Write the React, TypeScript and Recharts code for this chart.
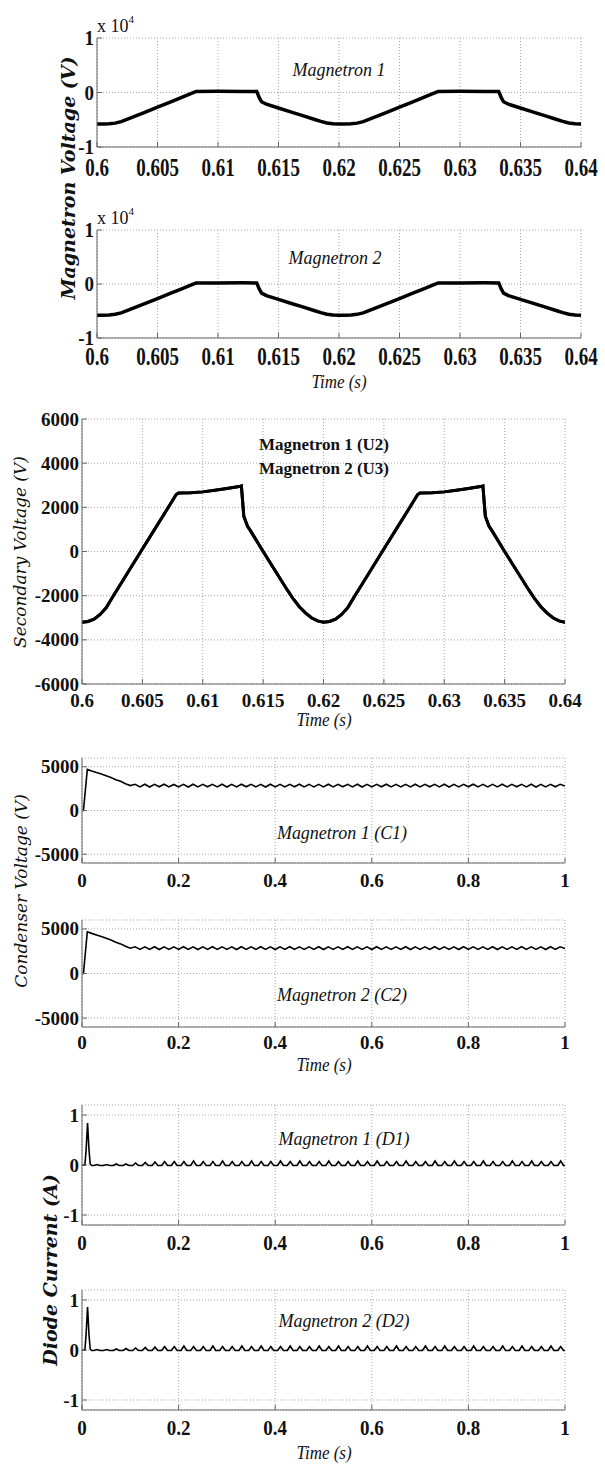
import React from 'react';
import { LineChart, Line, XAxis, YAxis, CartesianGrid } from 'recharts';

// ---- axis ticks ----
const shortTicks = [0.6, 0.605, 0.61, 0.615, 0.62, 0.625, 0.63, 0.635, 0.64];
const shortTickLabels = ['0.6', '0.605', '0.61', '0.615', '0.62', '0.625', '0.63', '0.635', '0.64'];
const longTicks = [0, 0.2, 0.4, 0.6, 0.8, 1];
const longTickLabels = ['0', '0.2', '0.4', '0.6', '0.8', '1'];
const magYTicks = [-10000, 0, 10000];
const magYLabels = ['-1', '0', '1'];
const secYTicks = [-6000, -4000, -2000, 0, 2000, 4000, 6000];
const secYLabels = ['-6000', '-4000', '-2000', '0', '2000', '4000', '6000'];
const condYTicks = [-5000, 0, 5000];
const condYLabels = ['-5000', '0', '5000'];
const diodeYTicks = [-1, 0, 1];
const diodeYLabels = ['-1', '0', '1'];

// ---- magnetron voltage (V), 0.6 .. 0.64 s ----
const magTime = [
  0.6, 0.6005, 0.601, 0.6015, 0.602, 0.603, 0.604, 0.605, 0.606, 0.607, 0.6078, 0.6082, 0.61, 0.612, 0.6132,
  0.6134, 0.6136, 0.614, 0.615, 0.616, 0.617, 0.618, 0.6185, 0.619, 0.6195, 0.62,
  0.6205, 0.621, 0.6215, 0.622, 0.623, 0.624, 0.625, 0.626, 0.627, 0.6278, 0.6282, 0.63, 0.632, 0.6332,
  0.6334, 0.6336, 0.634, 0.635, 0.636, 0.637, 0.638, 0.6385, 0.639, 0.6395, 0.64,
];
const magnetron1 = [
  -5800, -5790, -5740, -5620, -5350, -4480, -3580, -2700, -1800, -900, -150, 200, 210, 200, 200,
  -900, -1700, -2150, -2850, -3550, -4250, -4950, -5300, -5600, -5750, -5800,
  -5790, -5740, -5620, -5350, -4480, -3580, -2700, -1800, -900, -150, 200, 210, 200, 200,
  -900, -1700, -2150, -2850, -3550, -4250, -4950, -5300, -5600, -5750, -5800,
];
const magnetron2 = [
  -5800, -5790, -5740, -5610, -5350, -4480, -3580, -2690, -1800, -900, -150, 200, 200, 210, 200,
  -900, -1700, -2150, -2850, -3560, -4250, -4950, -5300, -5600, -5750, -5800,
  -5790, -5740, -5620, -5350, -4470, -3570, -2700, -1800, -900, -150, 200, 200, 210, 200,
  -900, -1700, -2150, -2850, -3550, -4250, -4950, -5300, -5600, -5750, -5800,
];

// ---- secondary voltage (V) ----
const secTime = [
  0.6, 0.6005, 0.601, 0.6015, 0.602, 0.6026, 0.603, 0.604, 0.605, 0.606, 0.607, 0.6078, 0.608, 0.609, 0.61,
  0.611, 0.612, 0.613, 0.6132, 0.6134, 0.6137, 0.614, 0.615, 0.616, 0.617, 0.6175, 0.618, 0.6185, 0.619, 0.6195,
  0.62, 0.6205, 0.621, 0.6215, 0.622, 0.6226, 0.623, 0.624, 0.625, 0.626, 0.627, 0.6278, 0.628, 0.629, 0.63,
  0.631, 0.632, 0.633, 0.6332, 0.6334, 0.6337, 0.634, 0.635, 0.636, 0.637, 0.6375, 0.638, 0.6385, 0.639, 0.6395, 0.64,
];
const secondaryU2 = [
  -3200, -3170, -3060, -2850, -2550, -2000, -1650, -770, 110, 990, 1870, 2580, 2650, 2660, 2700,
  2770, 2850, 2940, 2970, 1600, 1150, 900, 0, -870, -1740, -2150, -2500, -2780, -3000, -3140,
  -3200, -3170, -3060, -2850, -2550, -2000, -1650, -770, 110, 990, 1870, 2580, 2650, 2660, 2700,
  2770, 2850, 2940, 2970, 1600, 1150, 900, 0, -870, -1740, -2150, -2500, -2780, -3000, -3140, -3200,
];
const secondaryU3 = [
  -3200, -3170, -3060, -2850, -2550, -2000, -1650, -770, 110, 990, 1870, 2580, 2650, 2660, 2700,
  2770, 2850, 2940, 2970, 1600, 1150, 900, 0, -870, -1740, -2150, -2500, -2780, -3000, -3140,
  -3200, -3170, -3060, -2850, -2550, -2000, -1650, -770, 110, 990, 1870, 2580, 2650, 2660, 2700,
  2770, 2850, 2940, 2970, 1600, 1150, 900, 0, -870, -1740, -2150, -2500, -2780, -3000, -3140, -3200,
];

// ---- condenser voltage (V), 0 .. 1 s ----
const condStartTime = [0, 0.003, 0.011, 0.02, 0.03, 0.04, 0.05, 0.06, 0.07, 0.08, 0.09];
const cond1Start = [0, 0, 4700, 4520, 4330, 4160, 3960, 3780, 3520, 3330, 3060];
const cond2Start = [0, 0, 4680, 4500, 4320, 4150, 3950, 3760, 3510, 3320, 3050];
const rippleStart = 0.1;
const rippleStep = 0.01;
const cond1Ripple = [
  2850, 2990, 2700, 3000, 2690, 2990, 2710, 3000, 2700, 2980,
  2700, 2990, 2690, 3000, 2700, 2990, 2710, 2990, 2700, 3000,
  2690, 2990, 2700, 3000, 2710, 2990, 2700, 2990, 2690, 3000,
  2700, 2990, 2700, 2990, 2710, 3000, 2700, 2990, 2690, 2990,
  2700, 3000, 2700, 2990, 2710, 2990, 2700, 3000, 2690, 2990,
  2700, 2990, 2710, 3000, 2700, 2990, 2690, 2990, 2700, 3000,
  2700, 2990, 2710, 2990, 2700, 3000, 2690, 2990, 2700, 2990,
  2710, 3000, 2700, 2990, 2690, 2990, 2700, 3000, 2700, 2990,
  2710, 2990, 2700, 3000, 2690, 2990, 2700, 2990, 2710, 3000,
  2800,
];
const cond2Ripple = [
  2840, 2990, 2700, 2990, 2700, 3000, 2690, 2990, 2710, 2990,
  2700, 3000, 2700, 2990, 2690, 2990, 2700, 3000, 2710, 2990,
  2700, 2990, 2690, 3000, 2700, 2990, 2710, 3000, 2700, 2990,
  2690, 2990, 2700, 3000, 2700, 2990, 2710, 2990, 2700, 3000,
  2690, 2990, 2700, 2990, 2710, 3000, 2700, 2990, 2700, 2990,
  2690, 3000, 2700, 2990, 2710, 2990, 2700, 3000, 2690, 2990,
  2700, 2990, 2700, 3000, 2710, 2990, 2700, 2990, 2690, 3000,
  2700, 2990, 2710, 2990, 2700, 3000, 2690, 2990, 2700, 2990,
  2700, 3000, 2710, 2990, 2700, 2990, 2690, 3000, 2700, 2990,
  2800,
];

// ---- diode current (A), 0 .. 1 s ----
const diodeStartTime = [0, 0.006, 0.0085, 0.0115, 0.0145, 0.017, 0.02];
const diode1Start = [0, 0, 0.3, 0.84, 0.3, 0.02, -0.01];
const diode2Start = [0, 0, 0.32, 0.86, 0.3, 0.02, -0.01];
const bumpStart = 0.02;
const bumpPeriod = 0.02;
const diodeBase = -0.01;
const diode1Peaks = [
  0.01, 0.01, 0.02, 0.02, 0.04, 0.05, 0.06, 0.07, 0.07, 0.07,
  0.08, 0.07, 0.07, 0.08, 0.07, 0.07, 0.08, 0.07, 0.07, 0.08,
  0.07, 0.08, 0.07, 0.07, 0.08, 0.07, 0.07, 0.08, 0.07, 0.08,
  0.07, 0.07, 0.08, 0.07, 0.07, 0.08, 0.07, 0.08, 0.07, 0.07,
  0.08, 0.07, 0.07, 0.08, 0.07, 0.08, 0.07, 0.07, 0.08,
];
const diode2Peaks = [
  0.01, 0.01, 0.02, 0.03, 0.04, 0.05, 0.06, 0.07, 0.07, 0.08,
  0.07, 0.07, 0.08, 0.07, 0.07, 0.08, 0.07, 0.08, 0.07, 0.07,
  0.08, 0.07, 0.07, 0.08, 0.07, 0.08, 0.07, 0.07, 0.08, 0.07,
  0.07, 0.08, 0.07, 0.07, 0.08, 0.07, 0.08, 0.07, 0.07, 0.08,
  0.07, 0.07, 0.08, 0.07, 0.08, 0.07, 0.07, 0.08, 0.07,
];

// ---- build rows ----
const rows = (time: number[], ...cols: [string, number[]][]) =>
  time.map((t, i) => {
    const r: any = { t };
    cols.forEach(([k, arr]) => (r[k] = arr[i]));
    return r;
  });

const condRows = (start: number[], ripple: number[]) => [
  ...condStartTime.map((t, i) => ({ t, v: start[i] })),
  ...ripple.map((v, i) => ({ t: rippleStart + i * rippleStep, v })),
];

const diodeRows = (start: number[], peaks: number[]) => {
  const out = diodeStartTime.map((t, i) => ({ t, v: start[i] }));
  peaks.forEach((p, k) => {
    const t0 = bumpStart + k * bumpPeriod;
    out.push({ t: t0 + 0.25 * bumpPeriod, v: diodeBase });
    out.push({ t: t0 + 0.55 * bumpPeriod, v: p });
    out.push({ t: t0 + 0.85 * bumpPeriod, v: diodeBase });
  });
  out.push({ t: 1, v: diodeBase });
  return out;
};

const mag1Data = rows(magTime, ['v', magnetron1]);
const mag2Data = rows(magTime, ['v', magnetron2]);
const secData = rows(secTime, ['u2', secondaryU2], ['u3', secondaryU3]);
const cond1Data = condRows(cond1Start, cond1Ripple);
const cond2Data = condRows(cond2Start, cond2Ripple);
const diode1Data = diodeRows(diode1Start, diode1Peaks);
const diode2Data = diodeRows(diode2Start, diode2Peaks);

const W = 605;
const H = 1464;
const FRAME = '#666';
const GRID = '#a8a8a8';
const TICK_FONT = '"Liberation Serif", "Times New Roman", serif';
const LABEL_FONT = '"DejaVu Serif", serif';

const makeTick = (values: number[], labels: string[], size: number, stretch: number, anchor: string) =>
  (props: any) => {
    const { x, y, payload } = props;
    const i = values.findIndex((v) => Math.abs(v - payload.value) < 1e-9);
    return (
      <text
        transform={`translate(${x},${y}) scale(1,${stretch})`}
        textAnchor={anchor}
        dominantBaseline="central"
        fontFamily={TICK_FONT}
        fontWeight="bold"
        fontSize={size}
        fill="#111"
      >
        {i >= 0 ? labels[i] : ''}
      </text>
    );
  };

type PanelProps = {
  box: { left: number; right: number; top: number; bottom: number };
  data: any[];
  keys: string[];
  xDomain: [number, number];
  xTicks: number[];
  xLabels: string[];
  yDomain: [number, number];
  yTicks: number[];
  yLabels: string[];
  labelGap: number;
  fontSize: number;
  xStretch?: number;
  yStretch?: number;
  strokeWidth: number;
};

const PAD = 16;
const AXIS_H = 40;
const Y_W = 50;

function Panel(p: PanelProps) {
  const h = p.box.bottom - p.box.top + PAD + AXIS_H;
  const XTick = makeTick(p.xTicks, p.xLabels, p.fontSize, p.xStretch ?? 1, 'middle');
  const YTick = makeTick(p.yTicks, p.yLabels, p.fontSize, p.yStretch ?? 1, 'end');
  return (
    <div style={{ position: 'absolute', left: 0, top: p.box.top - PAD, width: W, height: h }}>
      <LineChart
        width={W}
        height={h}
        data={p.data}
        style={{ overflow: 'visible' }}
        margin={{ top: PAD, right: W - p.box.right, bottom: 0, left: p.box.left - Y_W }}
      >
        <CartesianGrid stroke={GRID} strokeDasharray="1 2" />
        <XAxis
          dataKey="t"
          type="number"
          domain={p.xDomain}
          ticks={p.xTicks}
          interval={0}
          allowDataOverflow
          height={AXIS_H}
          tickSize={-5}
          tickMargin={p.labelGap + 5}
          axisLine={{ stroke: FRAME }}
          tickLine={{ stroke: FRAME }}
          tick={XTick}
        />
        <XAxis
          xAxisId="top"
          orientation="top"
          dataKey="t"
          type="number"
          domain={p.xDomain}
          ticks={p.xTicks}
          interval={0}
          allowDataOverflow
          height={0}
          tickSize={-5}
          axisLine={{ stroke: FRAME }}
          tickLine={{ stroke: FRAME }}
          tick={false}
        />
        <YAxis
          type="number"
          domain={p.yDomain}
          ticks={p.yTicks}
          interval={0}
          allowDataOverflow
          width={Y_W}
          tickSize={-5}
          tickMargin={8}
          axisLine={{ stroke: FRAME }}
          tickLine={{ stroke: FRAME }}
          tick={YTick}
        />
        <YAxis
          yAxisId="right"
          orientation="right"
          type="number"
          domain={p.yDomain}
          ticks={p.yTicks}
          interval={0}
          allowDataOverflow
          width={0}
          tickSize={-5}
          axisLine={{ stroke: FRAME }}
          tickLine={{ stroke: FRAME }}
          tick={false}
        />
        {p.keys.map((k) => (
          <Line
            key={k}
            dataKey={k}
            type="linear"
            stroke="#000"
            strokeWidth={p.strokeWidth}
            dot={false}
            isAnimationActive={false}
          />
        ))}
      </LineChart>
    </div>
  );
}

function Txt(props: {
  x: number;
  y: number;
  size: number;
  children: React.ReactNode;
  italic?: boolean;
  bold?: boolean;
  family?: string;
  rotate?: number;
  stretch?: number;
}) {
  const { x, y, size, italic, bold, family, rotate = 0, stretch = 1 } = props;
  return (
    <text
      transform={`translate(${x},${y}) rotate(${rotate}) scale(1,${stretch})`}
      textAnchor="middle"
      dominantBaseline="central"
      fontSize={size}
      fontStyle={italic ? 'italic' : 'normal'}
      fontWeight={bold ? 'bold' : 'normal'}
      fontFamily={family ?? TICK_FONT}
      fill="#111"
    >
      {props.children}
    </text>
  );
}

export default function App() {
  const magBox1 = { left: 97, right: 581, top: 38, bottom: 147 };
  const magBox2 = { left: 97, right: 581, top: 230, bottom: 338 };
  const secBox = { left: 82, right: 565, top: 419, bottom: 684 };
  const condBox1 = { left: 82, right: 565, top: 758, bottom: 863 };
  const condBox2 = { left: 82, right: 565, top: 920, bottom: 1027 };
  const diodeBox1 = { left: 82, right: 565, top: 1105, bottom: 1225 };
  const diodeBox2 = { left: 82, right: 565, top: 1290, bottom: 1410 };

  const shortX = { xDomain: [0.6, 0.64] as [number, number], xTicks: shortTicks, xLabels: shortTickLabels };
  const longX = { xDomain: [0, 1] as [number, number], xTicks: longTicks, xLabels: longTickLabels };

  return (
    <div style={{ position: 'absolute', left: 0, top: 0, width: W, height: H, background: '#fff' }}>
      <Panel box={magBox1} data={mag1Data} keys={['v']} {...shortX} yDomain={[-10000, 10000]}
        yTicks={magYTicks} yLabels={magYLabels} labelGap={20} fontSize={19} xStretch={1.35} yStretch={1.1} strokeWidth={3.5} />
      <Panel box={magBox2} data={mag2Data} keys={['v']} {...shortX} yDomain={[-10000, 10000]}
        yTicks={magYTicks} yLabels={magYLabels} labelGap={18} fontSize={19} xStretch={1.35} yStretch={1.1} strokeWidth={3.5} />
      <Panel box={secBox} data={secData} keys={['u2', 'u3']} {...shortX} yDomain={[-6000, 6000]}
        yTicks={secYTicks} yLabels={secYLabels} labelGap={16} fontSize={19} strokeWidth={3} />
      <Panel box={condBox1} data={cond1Data} keys={['v']} {...longX} yDomain={[-6000, 6000]}
        yTicks={condYTicks} yLabels={condYLabels} labelGap={17} fontSize={19} strokeWidth={1.6} />
      <Panel box={condBox2} data={cond2Data} keys={['v']} {...longX} yDomain={[-6000, 6000]}
        yTicks={condYTicks} yLabels={condYLabels} labelGap={15} fontSize={19} strokeWidth={1.6} />
      <Panel box={diodeBox1} data={diode1Data} keys={['v']} {...longX} yDomain={[-1.2, 1.2]}
        yTicks={diodeYTicks} yLabels={diodeYLabels} labelGap={18} fontSize={19} xStretch={1.1} strokeWidth={1.6} />
      <Panel box={diodeBox2} data={diode2Data} keys={['v']} {...longX} yDomain={[-1.2, 1.2]}
        yTicks={diodeYTicks} yLabels={diodeYLabels} labelGap={18} fontSize={19} xStretch={1.1} strokeWidth={1.6} />

      <svg width={W} height={H} style={{ position: 'absolute', left: 0, top: 0, pointerEvents: 'none' }}>
        {/* x 10^4 exponents */}
        <text x={97} y={32} fontFamily={TICK_FONT} fontSize={18} fill="#111">
          x 10<tspan dy={-9} fontSize={11}>4</tspan>
        </text>
        <text x={97} y={224} fontFamily={TICK_FONT} fontSize={18} fill="#111">
          x 10<tspan dy={-9} fontSize={11}>4</tspan>
        </text>

        <Txt x={339} y={69} size={18} italic stretch={1.1}>Magnetron 1</Txt>
        <Txt x={335} y={257} size={18} italic stretch={1.1}>Magnetron 2</Txt>
        <Txt x={324} y={444} size={17} bold>Magnetron 1 (U2)</Txt>
        <Txt x={324} y={468} size={17} bold>Magnetron 2 (U3)</Txt>
        <Txt x={342} y={832} size={18} italic stretch={1.1}>Magnetron 1 (C1)</Txt>
        <Txt x={342} y={994} size={18} italic stretch={1.1}>Magnetron 2 (C2)</Txt>
        <Txt x={344} y={1138} size={18} italic stretch={1.1}>Magnetron 1 (D1)</Txt>
        <Txt x={344} y={1320} size={18} italic stretch={1.1}>Magnetron 2 (D2)</Txt>

        <Txt x={339} y={382} size={17} italic stretch={1.1}>Time (s)</Txt>
        <Txt x={324} y={720} size={17} italic stretch={1.1}>Time (s)</Txt>
        <Txt x={324} y={1065} size={17} italic stretch={1.1}>Time (s)</Txt>
        <Txt x={324} y={1453} size={17} italic stretch={1.1}>Time (s)</Txt>

        <Txt x={68} y={178} size={19} italic bold family={LABEL_FONT} rotate={-90}>Magnetron Voltage (V)</Txt>
        <Txt x={20} y={552} size={17} italic family={LABEL_FONT} rotate={-90}>Secondary Voltage (V)</Txt>
        <Txt x={21} y={891} size={17} italic family={LABEL_FONT} rotate={-90}>Condenser Voltage (V)</Txt>
        <Txt x={50} y={1270} size={19} italic bold family={LABEL_FONT} rotate={-90}>Diode Current (A)</Txt>
      </svg>
    </div>
  );
}
